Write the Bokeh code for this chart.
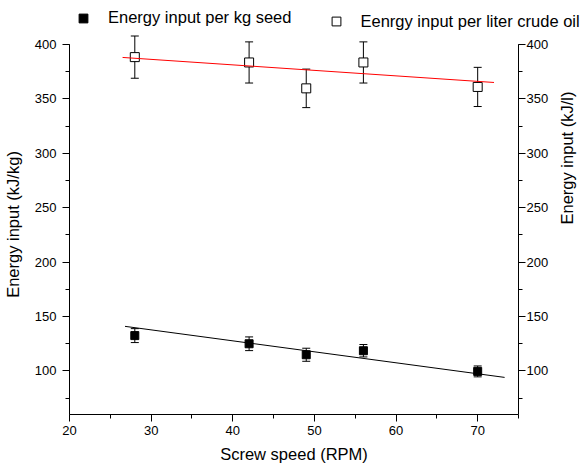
import math
from bokeh.plotting import figure
from bokeh.layouts import column
from bokeh.models import (Range1d, LinearAxis, SingleIntervalTicker, Whisker,
                          ColumnDataSource, Legend, LegendItem, TeeHead, Plot)
from bokeh.embed import file_html
from bokeh.resources import INLINE

# ---- data ----
speed = [28, 42, 49, 56, 70]
energy_kg = [132.5, 125.0, 114.9, 118.6, 99.6]
err_kg = [6.4, 6.3, 6.0, 5.7, 5.0]
energy_l = [388.4, 383.5, 359.7, 383.5, 361.0]
err_l = [19.4, 18.9, 17.7, 18.9, 18.0]
trend_x_kg = [26.8, 73.3]
trend_y_kg = [141.0, 94.1]
trend_x_l = [26.5, 72.0]
trend_y_l = [388.1, 365.1]
series_labels = ["Energy input per kg seed", "Eenrgy input per liter crude oil"]

x_min, x_max = 20, 75
y_min, y_max = 60, 400
x_ticks_interval = 10
y_ticks_interval = 50

FONT = "Liberation Sans"
KG_STYLE = dict(marker="square", size=8, fill_color="black", line_color="black")
L_STYLE = dict(marker="square", size=9, fill_color="white", line_color="black", line_width=1)
HAS_FRAME_ALIGN = "frame_align" in Plot.properties()

# layout: axis span 370 px tall; the plotting frame reaches 10 px higher so
# error bars above 400 are not cut; the y axes stay bounded to 60..400
AXIS_PX = 370
EXTRA_TOP_PX = 10
y_top_view = y_max + EXTRA_TOP_PX * (y_max - y_min) / AXIS_PX

# ---------------- main chart ----------------
p = figure(width=588, height=435, x_range=Range1d(x_min, x_max), y_range=Range1d(y_min, y_top_view),
           output_backend="svg", toolbar_location=None,
           min_border_left=69, min_border_right=65, min_border_top=0, min_border_bottom=55,
           x_axis_label="Screw speed (RPM)", y_axis_label="Energy input (kJ/kg)")
p.outline_line_color = None
p.grid.visible = False
p.background_fill_color = "white"
p.border_fill_color = "white"
if HAS_FRAME_ALIGN:
    p.frame_align = False

right_axis = LinearAxis(axis_label="Energy input (kJ/l)")
p.add_layout(right_axis, "right")

p.xaxis.ticker = SingleIntervalTicker(interval=x_ticks_interval, num_minor_ticks=2)
for ax in p.yaxis:
    ax.ticker = SingleIntervalTicker(interval=y_ticks_interval, num_minor_ticks=2)
    ax.bounds = (y_min, y_max)

for ax in list(p.xaxis) + list(p.yaxis):
    ax.axis_line_color = "black"
    ax.axis_line_width = 1
    ax.major_tick_line_color = "black"
    ax.minor_tick_line_color = "black"
    ax.major_tick_out = 7
    ax.major_tick_in = 0
    ax.minor_tick_out = 4
    ax.minor_tick_in = 0
    ax.major_label_text_font = FONT
    ax.major_label_text_font_size = "13px"
    ax.major_label_text_color = "black"
    ax.axis_label_text_font = FONT
    ax.axis_label_text_font_size = "16.5px"
    ax.axis_label_text_font_style = "normal"
    ax.axis_label_text_color = "black"
    ax.axis_label_standoff = 10

p.xaxis.major_label_standoff = 4
p.xaxis.axis_label_standoff = 7
p.yaxis[0].major_label_standoff = 6
right_axis.major_label_standoff = 1
right_axis.axis_label_standoff = 16

if "axis_label_orientation" in LinearAxis.properties():
    right_axis.axis_label_orientation = math.pi / 2

# error bars
src_kg = ColumnDataSource(dict(x=speed, y=energy_kg,
                               upper=[v + e for v, e in zip(energy_kg, err_kg)],
                               lower=[v - e for v, e in zip(energy_kg, err_kg)]))
src_l = ColumnDataSource(dict(x=speed, y=energy_l,
                              upper=[v + e for v, e in zip(energy_l, err_l)],
                              lower=[v - e for v, e in zip(energy_l, err_l)]))
for src in (src_kg, src_l):
    w = Whisker(base="x", upper="upper", lower="lower", source=src, dimension="height",
                line_color="black", line_width=1,
                upper_head=TeeHead(size=8, line_color="black", line_width=1),
                lower_head=TeeHead(size=8, line_color="black", line_width=1))
    p.add_layout(w)

p.scatter("x", "y", source=src_kg, **KG_STYLE)
p.scatter("x", "y", source=src_l, **L_STYLE)

p.line(trend_x_l, trend_y_l, line_color="#ff0000", line_width=1)
p.line(trend_x_kg, trend_y_kg, line_color="black", line_width=1)

# ---------------- legend strip above the chart ----------------
# its ranges keep the series' own points out of view; only the legend shows
lg = figure(width=588, height=34, x_range=Range1d(0, 1), y_range=Range1d(0, 1),
            output_backend="svg", toolbar_location=None,
            x_axis_location=None, y_axis_location=None,
            min_border=0, min_border_left=0, min_border_right=0,
            min_border_top=0, min_border_bottom=0)
lg.outline_line_color = None
lg.grid.visible = False
lg.background_fill_color = "white"
lg.border_fill_color = "white"
if HAS_FRAME_ALIGN:
    lg.frame_align = False
lr_kg = lg.scatter(speed, energy_kg, **KG_STYLE)
lr_l = lg.scatter(speed, energy_l, **L_STYLE)

def make_legend(label, rend, loc):
    return Legend(items=[LegendItem(label=label, renderers=[rend])], location=loc,
                  orientation="horizontal", glyph_width=22, glyph_height=22,
                  label_height=22, label_standoff=14, padding=0, margin=0,
                  spacing=0, border_line_color=None, background_fill_alpha=0,
                  label_text_font=FONT, label_text_font_size="16.5px",
                  label_text_color="black")

lg.add_layout(make_legend(series_labels[0], lr_kg, (72, 5.5)))
lg.add_layout(make_legend(series_labels[1], lr_l, (324.5, 2)))

layout = column(lg, p, spacing=0)
open("out.html", "w").write(file_html(layout, INLINE))
